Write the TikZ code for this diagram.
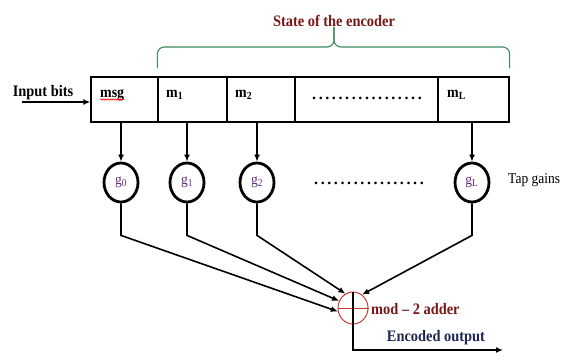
\documentclass[tikz,border=0pt]{standalone}
\usepackage{fontspec}
\setmainfont{Liberation Serif}
\newfontfamily\labelfont[FakeStretch=0.9,Ligatures=TeX]{Liberation Serif}
\usetikzlibrary{shapes.geometric,arrows.meta,decorations.pathmorphing}
\definecolor{titlered}{HTML}{7A1616}
\definecolor{bracegreen}{HTML}{3C8A5C}
\definecolor{adderred}{HTML}{C23A3A}
\definecolor{outnavy}{HTML}{1E2454}
\definecolor{gainpurple}{HTML}{5E2A88}
\newcommand{\dotrow}[1]{\foreach \i in {1,...,#1}{.\hspace{2.6pt}}}

\begin{document}
\begin{tikzpicture}[x=1pt,y=-1pt,
cellnode/.style={draw=black, line width=1.3pt, minimum height=45pt, inner sep=0pt},
celltext/.style={inner sep=0pt, anchor=base west, font=\labelfont\fontsize{15.5}{17}\selectfont\bfseries},
gainnode/.style={ellipse, draw=black, line width=2.8pt, minimum width=34pt, minimum height=39pt, inner sep=0pt, text=gainpurple, font=\labelfont\fontsize{15}{17}\selectfont},
addernode/.style={ellipse, draw=adderred, line width=1pt, minimum width=30pt, minimum height=32pt, inner sep=0pt},
conn/.style={line width=1.6pt, -{Latex[length=7pt,width=6pt]}},
bracepath/.style={draw=bracegreen, line width=1.1pt, rounded corners=7pt},
boldtext/.style={inner sep=0pt, font=\labelfont\fontsize{16}{18}\selectfont\bfseries},
dotsnode/.style={inner sep=0pt, font=\fontsize{16}{18}\selectfont\bfseries}
]
\useasboundingbox (0,0) rectangle (567,356);

    % shift register
    \node [cellnode, minimum width=67pt] (c0) at (124.5,99.5) {};
    \node [cellnode, minimum width=69pt] (c1) at (192.5,99.5) {};
    \node [cellnode, minimum width=68pt] (c2) at (261,99.5) {};
    \node [cellnode, minimum width=143pt] (c3) at (366.5,99.5) {};
    \node [cellnode, minimum width=71pt] (c4) at (473.5,99.5) {};

    \node [celltext] (t0) at (100,97) {msg};
    \node [celltext] (t1) at (166,97) {m\textsubscript{1}};
    \node [celltext] (t2) at (235,97) {m\textsubscript{2}};
    \node [celltext] (t4) at (447,97) {m\textsubscript{L}};
    \node [dotsnode] (d1) at (367,98) {\dotrow{17}};
    \draw [red, line width=0.6pt, decorate, decoration={snake, amplitude=0.7pt, segment length=2.5pt}]
        ([yshift=-2.5pt]t0.base west) -- ([yshift=-2.5pt]t0.base east);

    % state brace
    \node [boldtext, text=titlered] (state) at (334,21) {State of the encoder};
    \coordinate (tipbase) at (state.south |- 0,47);
    \draw [bracepath] ([yshift=8pt]c1.north west) |- (tipbase) -- (state.south);
    \draw [bracepath] ([yshift=8pt]c4.north east) |- (tipbase) -- (state.south);

    % input
    \node [boldtext] (inlabel) at (43,93) {Input bits};
    \coordinate (inbit) at (22,102);
    \draw [conn] (inbit) -- (inbit -| c0.west);

    % tap gains
    \node [gainnode] (g0) at (121,182.5) {g\textsubscript{0}};
    \node [gainnode] (g1) at (187,182.5) {g\textsubscript{1}};
    \node [gainnode] (g2) at (257,182.5) {g\textsubscript{2}};
    \node [gainnode] (gL) at (472,182.5) {g\textsubscript{L}};
    \node [dotsnode] (d2) at (369,183) {\dotrow{17}};
    \node [inner sep=0pt, anchor=west, font=\labelfont\fontsize{15}{17}\selectfont] (tap) at (508,180) {Tap gains};

    \draw [conn] (g0 |- c0.south) -- (g0.north);
    \draw [conn] (g1 |- c1.south) -- (g1.north);
    \draw [conn] (g2 |- c2.south) -- (g2.north);
    \draw [conn] (gL |- c4.south) -- (gL.north);

    % adder
    \node [addernode] (add) at (353,308) {};
    \draw [adderred, line width=1pt] (add.west) -- (add.east);
    \node [boldtext, text=titlered, anchor=west] (addlabel) at (371,309) {mod – 2 adder};

    \draw [conn] (g0.south) -- ++(0,32) -- (add.193);
    \draw [conn] (g1.south) -- ++(0,32) -- (add.153);
    \draw [conn] (g2.south) -- ++(0,32) -- (add.118);
    \draw [conn] (gL.south) -- ++(0,32) -- (add.56);

    % output
    \coordinate (outend) at (503,350);
    \draw [line width=1.2pt] (add.north) -- (add.south);
    \draw [conn] (add.south) -- (add.south |- outend) -- (outend);
    \node [boldtext, text=outnavy] (outlabel) at (436,338) {Encoded output};

\end{tikzpicture}
\end{document}
